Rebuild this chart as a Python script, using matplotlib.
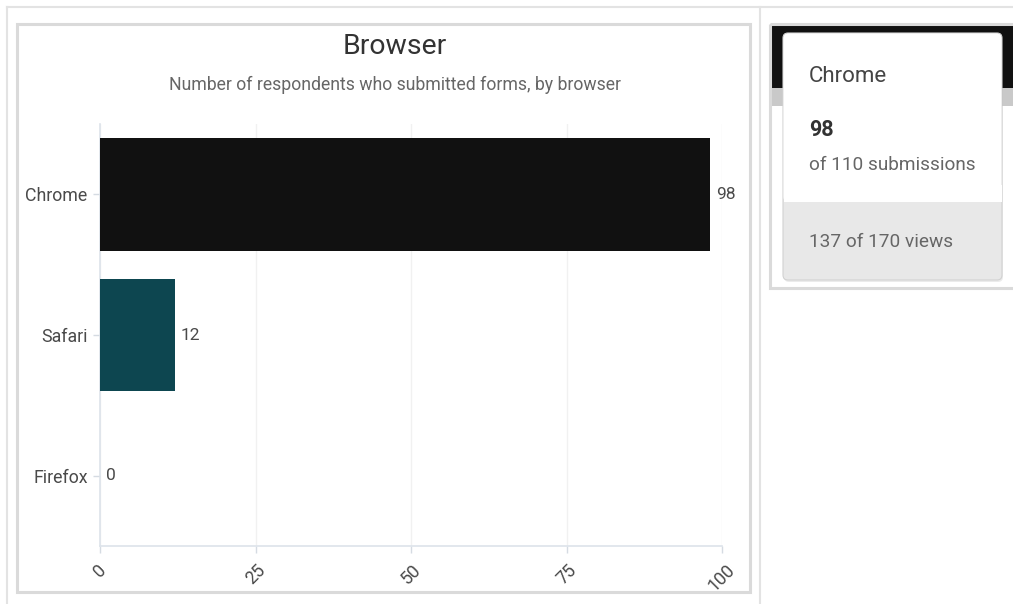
import matplotlib
matplotlib.use("Agg")
import matplotlib.pyplot as plt
import matplotlib.transforms as mtransforms
from matplotlib.patches import Rectangle, FancyBboxPatch
from matplotlib.lines import Line2D

## Data
browsers = ["Chrome", "Safari", "Firefox"]
submitted = [98, 12, 0]
bar_colors = ["#111111", "#0d4650", "#0d4650"]
x_ticks = [0, 25, 50, 75, 100]

## tooltip card contents
tip_name = "Chrome"
tip_value = "98"
tip_total = "of 110 submissions"
tip_views = "137 of 170 views"

plt.rcParams['font.family'] = ['Roboto', 'DejaVu Sans']

W, H = 1013, 604
fig = plt.figure(figsize=(W / 100, H / 100), dpi=100, facecolor='w')

## pixel coords from the top-left corner
px = mtransforms.Affine2D().scale(1, -1).translate(0, H)

def frac(x0, y0, x1, y1):
    return [x0 / W, (H - y1) / H, (x1 - x0) / W, (y1 - y0) / H]

## page frame lines
for xs, ys in [((7, W), (7, 7)), ((7, 7), (7, H)), ((760, 760), (7, H))]:
    fig.add_artist(Line2D(xs, ys, color="#e3e3e3", lw=1.5, transform=px))

## left chart panel border
fig.add_artist(Rectangle((17, 24), 733, 568, fill=False, ec="#dadada", lw=2.2, transform=px))

## chart
ax = fig.add_axes(frac(100, 124, 722, 546))
ypos = list(range(len(browsers)))
ax.barh(ypos, submitted, height=0.8, color=bar_colors, zorder=3)
ax.set_ylim(len(browsers) - 0.5, -0.5)
ax.set_xlim(0, 100)
ax.set_yticks(ypos)
ax.set_yticklabels(browsers)
ax.set_xticks(x_ticks)
ax.set_xticklabels([str(t) for t in x_ticks], rotation=45, ha='center', va='top')
ax.tick_params(axis='both', colors="#d5dbe2", labelcolor="#4a4a4a", labelsize=12.8, length=5, width=1)
ax.tick_params(axis='x', pad=6)
ax.tick_params(axis='y', pad=4)
ax.grid(axis='x', color="#f1f1f1", lw=1, zorder=0)
for s in ["top", "right"]:
    ax.spines[s].set_visible(False)
for s in ["left", "bottom"]:
    ax.spines[s].set_color("#dde3ea")
    ax.spines[s].set_linewidth(1.2)
for y, v in zip(ypos, submitted):
    ax.annotate(str(v), (v, y), xytext=(4.5, 0), textcoords='offset points',
                va='center', ha='left', fontsize=12.5, color="#4a4a4a")

fig.text(395 / W, (H - 47) / H, "Browser", ha='center', va='center', fontsize=20.4, color="#333333")
fig.text(395 / W, (H - 85) / H, "Number of respondents who submitted forms, by browser",
         ha='center', va='center', fontsize=12.7, color="#666666")

## right panel: tooltip preview
fig.add_artist(Rectangle((771, 25), 242, 63, color="#111111", lw=0, transform=px))
fig.add_artist(Rectangle((771, 88), 242, 18, color="#c9c9c9", lw=0, transform=px))
fig.add_artist(Rectangle((770, 24), 260, 264, fill=False, ec="#dadada", lw=2.2, transform=px))

## card shadow + card
fig.add_artist(FancyBboxPatch((784, 35), 219, 247, boxstyle="round,pad=0,rounding_size=5",
                              fc="#000000", alpha=0.08, lw=0, transform=px))
fig.add_artist(FancyBboxPatch((783, 33), 219, 247, boxstyle="round,pad=0,rounding_size=5",
                              fc="#e8e8e8", ec="#d2d2d2", lw=0.8, transform=px))
fig.add_artist(FancyBboxPatch((783.5, 33.5), 218, 168.5, boxstyle="round,pad=0,rounding_size=5",
                              fc="#ffffff", lw=0, transform=px))
fig.add_artist(Rectangle((783.5, 185), 218, 17, fc="#ffffff", lw=0, transform=px))

fig.text(809 / W, (H - 76) / H, tip_name, ha='left', va='center', fontsize=16, color="#444444")
fig.text(809 / W, (H - 130) / H, tip_value, ha='left', va='center', fontsize=15.5, color="#333333", fontweight='bold')
fig.text(809 / W, (H - 165) / H, tip_total, ha='left', va='center', fontsize=13.7, color="#666666")
fig.text(809 / W, (H - 242) / H, tip_views, ha='left', va='center', fontsize=13.7, color="#666666")

fig.savefig("out.png", dpi=100, facecolor='w')
